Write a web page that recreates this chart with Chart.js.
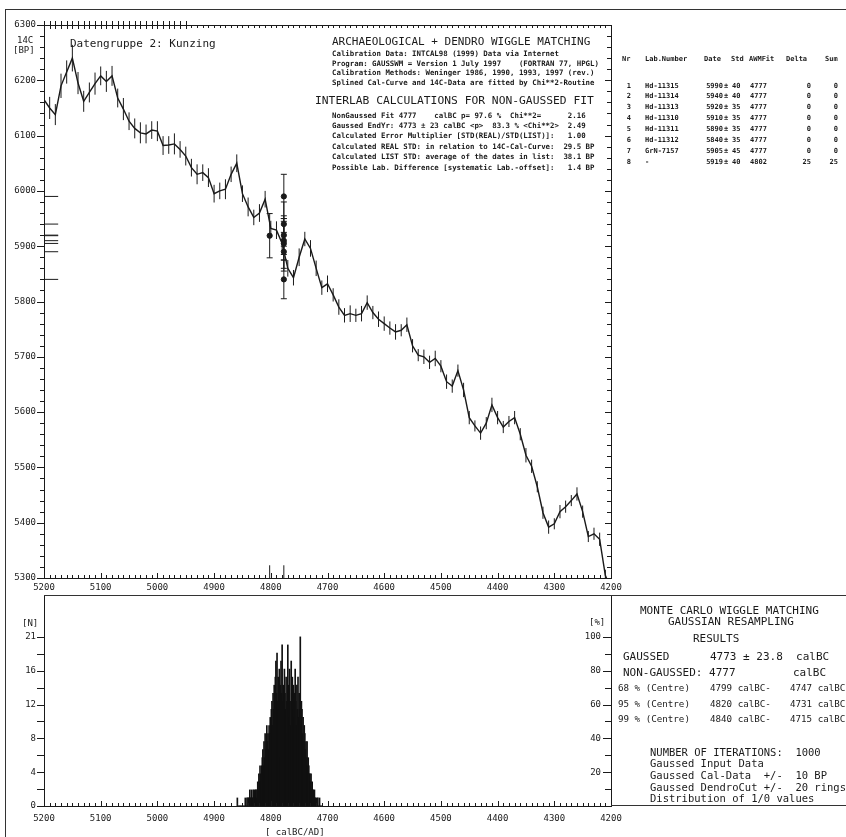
<!DOCTYPE html>
<html>
<head>
<meta charset="utf-8">
<script src="https://cdn.jsdelivr.net/npm/chart.js@4"></script>
<style>
  html, body { margin: 0; padding: 0; background: #fff; }
  body { position: relative; width: 846px; height: 837px; overflow: hidden; }
  canvas { position: absolute; left: 0; }
  #calChart { top: 0; }
  #histChart { top: 585px; }
  .t { position: absolute; white-space: pre; line-height: 1; color: #1a1a1a; font-family: 'DejaVu Sans Mono', monospace; }
  .small { font-size: 7.4px; font-weight: bold; }
  .tab { font-size: 7px; font-weight: bold; }
  .hl { position: absolute; border-top: 1px solid #333; height: 0; }
  .vl { position: absolute; border-left: 1px solid #333; width: 0; }
</style>
</head>
<body>
<canvas id="calChart" width="846" height="600"></canvas>
<canvas id="histChart" width="846" height="252"></canvas>

<!-- frame lines -->
<div class="hl" style="left:5px; top:9px; width:841px;"></div>
<div class="vl" style="left:5px; top:9px; height:828px;"></div>
<div class="hl" style="left:44px; top:595px; width:802px;"></div>
<div class="hl" style="left:611px; top:805px; width:235px;"></div>

<!-- top left -->
<div class="t" style="left:17px; top:36px; font-size:9px;">14C</div>
<div class="t" style="left:13px; top:46px; font-size:9px;">[BP]</div>
<div class="t" style="left:70px; top:38px; font-size:11px;">Datengruppe 2: Kunzing</div>

<!-- top middle -->
<div class="t" style="left:332px; top:36px; font-size:11px;">ARCHAEOLOGICAL + DENDRO WIGGLE MATCHING</div>
<div class="t small" style="left:332px; top:49.5px;">Calibration Data: INTCAL98 (1999) Data via Internet</div>
<div class="t small" style="left:332px; top:59.5px;">Program: GAUSSWM = Version 1 July 1997    (FORTRAN 77, HPGL)</div>
<div class="t small" style="left:332px; top:68.5px;">Calibration Methods: Weninger 1986, 1990, 1993, 1997 (rev.)</div>
<div class="t small" style="left:332px; top:78.5px;">Splined Cal-Curve and 14C-Data are fitted by Chi**2-Routine</div>
<div class="t" style="left:315px; top:94.6px; font-size:11.3px;">INTERLAB CALCULATIONS FOR NON-GAUSSED FIT</div>
<div class="t small" style="left:332px; top:111.5px;">NonGaussed Fit 4777    calBC p= 97.6 %  Chi**2=      2.16</div>
<div class="t small" style="left:332px; top:121.5px;">Gaussed EndYr: 4773 ± 23 calBC &lt;p&gt;  83.3 % &lt;Chi**2&gt;  2.49</div>
<div class="t small" style="left:332px; top:131.5px;">Calculated Error Multiplier [STD(REAL)/STD(LIST)]:   1.00</div>
<div class="t small" style="left:332px; top:142.5px;">Calculated REAL STD: in relation to 14C-Cal-Curve:  29.5 BP</div>
<div class="t small" style="left:332px; top:152.5px;">Calculated LIST STD: average of the dates in list:  38.1 BP</div>
<div class="t small" style="left:332px; top:163.5px;">Possible Lab. Difference [systematic Lab.-offset]:   1.4 BP</div>

<!-- table header -->
<div class="t tab" style="left:622px; top:56px;">Nr</div>
<div class="t tab" style="left:645px; top:56px;">Lab.Number</div>
<div class="t tab" style="left:704px; top:56px;">Date</div>
<div class="t tab" style="left:731px; top:56px;">Std</div>
<div class="t tab" style="left:749px; top:56px;">AWMFit</div>
<div class="t tab" style="left:786px; top:56px;">Delta</div>
<div class="t tab" style="left:825px; top:56px;">Sum</div>
<div id="tableRows"></div>

<!-- bottom labels -->
<div class="t" style="left:22px; top:618.5px; font-size:9px;">[N]</div>
<div class="t" style="left:589px; top:617.5px; font-size:9px;">[%]</div>
<div class="t" style="left:265px; top:827.5px; font-size:9px;">[ calBC/AD]</div>

<!-- bottom right panel -->
<div class="t" style="left:640px; top:604.7px; font-size:11px;">MONTE CARLO WIGGLE MATCHING</div>
<div class="t" style="left:668px; top:615.7px; font-size:11px;">GAUSSIAN RESAMPLING</div>
<div class="t" style="left:693px; top:632.7px; font-size:11px;">RESULTS</div>
<div class="t" style="left:623px; top:650.7px; font-size:11px;">GAUSSED</div>
<div class="t" style="left:710px; top:650.7px; font-size:11px;">4773 ± 23.8  calBC</div>
<div class="t" style="left:623px; top:666.7px; font-size:11px;">NON-GAUSSED: 4777</div>
<div class="t" style="left:793px; top:666.7px; font-size:11px;">calBC</div>
<div class="t" style="left:618px; top:682.6px; font-size:9.2px;">68 % (Centre)</div>
<div class="t" style="left:710px; top:682.6px; font-size:9.2px;">4799 calBC-</div>
<div class="t" style="left:790px; top:682.6px; font-size:9.2px;">4747 calBC</div>
<div class="t" style="left:618px; top:698.6px; font-size:9.2px;">95 % (Centre)</div>
<div class="t" style="left:710px; top:698.6px; font-size:9.2px;">4820 calBC-</div>
<div class="t" style="left:790px; top:698.6px; font-size:9.2px;">4731 calBC</div>
<div class="t" style="left:618px; top:713.6px; font-size:9.2px;">99 % (Centre)</div>
<div class="t" style="left:710px; top:713.6px; font-size:9.2px;">4840 calBC-</div>
<div class="t" style="left:790px; top:713.6px; font-size:9.2px;">4715 calBC</div>
<div class="t" style="left:650px; top:747px; font-size:10.5px;">NUMBER OF ITERATIONS:  1000</div>
<div class="t" style="left:650px; top:758px; font-size:10.5px;">Gaussed Input Data</div>
<div class="t" style="left:650px; top:770px; font-size:10.5px;">Gaussed Cal-Data  +/-  10 BP</div>
<div class="t" style="left:650px; top:782px; font-size:10.5px;">Gaussed DendroCut +/-  20 rings</div>
<div class="t" style="left:650px; top:793px; font-size:10.5px;">Distribution of 1/0 values</div>

<script>
// --- calibration curve (INTCAL98, 10 yr steps) ---
const calYears = [
    5200, 5190, 5180, 5170, 5160, 5150, 5140, 5130, 5120, 5110,
    5100, 5090, 5080, 5070, 5060, 5050, 5040, 5030, 5020, 5010,
    5000, 4990, 4980, 4970, 4960, 4950, 4940, 4930, 4920, 4910,
    4900, 4890, 4880, 4870, 4860, 4850, 4840, 4830, 4820, 4810,
    4800, 4790, 4780, 4770, 4760, 4750, 4740, 4730, 4720, 4710,
    4700, 4690, 4680, 4670, 4660, 4650, 4640, 4630, 4620, 4610,
    4600, 4590, 4580, 4570, 4560, 4550, 4540, 4530, 4520, 4510,
    4500, 4490, 4480, 4470, 4460, 4450, 4440, 4430, 4420, 4410,
    4400, 4390, 4380, 4370, 4360, 4350, 4340, 4330, 4320, 4310,
    4300, 4290, 4280, 4270, 4260, 4250, 4240, 4230, 4220, 4210,
    4200
];
const calBP = [
    6165, 6150, 6138, 6190, 6215, 6240, 6195, 6162, 6178, 6194,
    6208, 6198, 6208, 6168, 6148, 6126, 6113, 6105, 6103, 6110,
    6108, 6082, 6083, 6085, 6075, 6063, 6042, 6030, 6033, 6024,
    5995, 6000, 6003, 6030, 6050, 5995, 5971, 5952, 5960, 5985,
    5932, 5929, 5905, 5860, 5843, 5880, 5913, 5896, 5860, 5825,
    5832, 5812, 5790, 5775, 5778, 5775, 5778, 5798, 5780, 5768,
    5760, 5752, 5745, 5748, 5758, 5720, 5703, 5700, 5690, 5697,
    5683, 5655, 5647, 5675, 5640, 5590, 5575, 5562, 5580, 5613,
    5590, 5573, 5583, 5590, 5560, 5522, 5502, 5465, 5418, 5392,
    5398, 5420, 5429, 5440, 5452, 5420, 5375, 5380, 5370, 5305,
    5280
];
const calErr = [
    18, 20, 19, 22, 21, 24, 20, 19, 18, 20,
    17, 19, 18, 17, 20, 16, 18, 19, 17, 16,
    18, 17, 16, 19, 15, 17, 16, 18, 15, 17,
    16, 15, 18, 14, 16, 15, 17, 14, 16, 15,
    14, 16, 13, 15, 14, 16, 13, 15, 14, 13,
    15, 12, 14, 13, 15, 12, 14, 13, 12, 14,
    13, 12, 14, 11, 13, 12, 11, 13, 12, 14,
    11, 13, 12, 11, 13, 12, 10, 12, 11, 13,
    12, 11, 10, 12, 11, 13, 12, 10, 11, 12,
    10, 12, 11, 10, 12, 11, 10, 11, 12, 10,
    11
];

// --- 14C dates of the group ---
const labNumbers = ['Hd-11315', 'Hd-11314', 'Hd-11313', 'Hd-11310', 'Hd-11311', 'Hd-11312', 'GrN-7157', '-'];
const dateBP = [5990, 5940, 5920, 5910, 5890, 5840, 5905, 5919];
const dateStd = [40, 40, 35, 35, 35, 35, 45, 40];
const fitYears = [4777, 4777, 4777, 4777, 4777, 4777, 4777, 4802];
const deltas = [0, 0, 0, 0, 0, 0, 0, 25];
const sums = [0, 0, 0, 0, 0, 0, 0, 25];

// --- Monte Carlo distribution (counts per calendar year) ---
const histYears = [
    4859, 4858, 4857, 4856, 4855, 4854, 4853, 4852, 4851, 4850,
    4849, 4848, 4847, 4846, 4845, 4844, 4843, 4842, 4841, 4840,
    4839, 4838, 4837, 4836, 4835, 4834, 4833, 4832, 4831, 4830,
    4829, 4828, 4827, 4826, 4825, 4824, 4823, 4822, 4821, 4820,
    4819, 4818, 4817, 4816, 4815, 4814, 4813, 4812, 4811, 4810,
    4809, 4808, 4807, 4806, 4805, 4804, 4803, 4802, 4801, 4800,
    4799, 4798, 4797, 4796, 4795, 4794, 4793, 4792, 4791, 4790,
    4789, 4788, 4787, 4786, 4785, 4784, 4783, 4782, 4781, 4780,
    4779, 4778, 4777, 4776, 4775, 4774, 4773, 4772, 4771, 4770,
    4769, 4768, 4767, 4766, 4765, 4764, 4763, 4762, 4761, 4760,
    4759, 4758, 4757, 4756, 4755, 4754, 4753, 4752, 4751, 4750,
    4749, 4748, 4747, 4746, 4745, 4744, 4743, 4742, 4741, 4740,
    4739, 4738, 4737, 4736, 4735, 4734, 4733, 4732, 4731, 4730,
    4729, 4728, 4727, 4726, 4725, 4724, 4723, 4722, 4721, 4720,
    4719, 4718, 4717, 4716, 4715, 4714, 4713, 4712, 4711, 4710
];
const histCounts = [
    1, 0, 0, 0, 0, 0, 0, 0, 0, 0,
    0, 0, 0, 0, 1, 0, 0, 1, 0, 1,
    1, 0, 2, 1, 1, 2, 1, 1, 2, 1,
    2, 1, 2, 2, 1, 2, 3, 2, 4, 3,
    5, 4, 3, 5, 6, 7, 5, 8, 6, 9,
    7, 8, 10, 8, 9, 7, 10, 9, 11, 9,
    12, 13, 10, 14, 12, 15, 11, 16, 18, 14,
    19, 13, 16, 12, 17, 6, 15, 18, 14, 20,
    13, 15, 11, 17, 14, 12, 16, 13, 9, 20,
    15, 11, 17, 13, 10, 18, 14, 16, 12, 15,
    11, 14, 17, 13, 10, 15, 12, 16, 11, 14,
    12, 21, 10, 13, 12, 9, 11, 8, 10, 9,
    7, 8, 6, 8, 5, 6, 5, 4, 4, 3,
    4, 2, 3, 2, 2, 1, 2, 1, 1, 0,
    1, 0, 1, 0, 0, 1, 0, 0, 0, 0
];
const histMaxCount = 21;   // top label of the [N] axis == 100 %

const INK = '#1a1a1a';
const tickFont = { family: 'DejaVu Sans Mono', size: 9 };

function tickValues(min, max, step) {
    const out = [];
    for (let v = min; v <= max + 1e-9; v += step) out.push({ value: Math.round(v * 1000) / 1000 });
    return out;
}

// draws tick marks of different length (major/minor, in/out) from the scales' own ticks
function tickPlugin(specs) {
    return {
        id: 'tickMarks',
        afterDraw(chart) {
            const ctx = chart.ctx;
            ctx.save();
            ctx.strokeStyle = INK;
            ctx.lineWidth = 1;
            specs.forEach(spec => {
                const s = chart.scales[spec.id];
                s.ticks.forEach(t => {
                    const [inner, outer] = spec.len(t.value);
                    const p = Math.round(s.getPixelForValue(t.value)) + 0.5;
                    ctx.beginPath();
                    if (spec.side === 'bottom') {
                        ctx.moveTo(p, s.top - inner); ctx.lineTo(p, s.top + outer);
                    } else if (spec.side === 'top') {
                        ctx.moveTo(p, s.bottom + inner); ctx.lineTo(p, s.bottom - outer);
                    } else if (spec.side === 'left') {
                        ctx.moveTo(s.right + inner, p); ctx.lineTo(s.right - outer, p);
                    } else {
                        ctx.moveTo(s.left - inner, p); ctx.lineTo(s.left + outer, p);
                    }
                    ctx.stroke();
                });
            });
            ctx.restore();
        }
    };
}

// --- Build datasets for the calibration plot ---
const curvePoints = calYears.map((x, i) => ({ x, y: calBP[i] }));
const curveBars = [];
calYears.forEach((x, i) => {
    curveBars.push({ x, y: calBP[i] - calErr[i] }, { x, y: calBP[i] + calErr[i] }, { x, y: null });
});
const dateBars = [];
const dateCaps = [];
const datePoints = [];
const axisMarks = [];
dateBP.forEach((bp, i) => {
    const x = fitYears[i];
    dateBars.push({ x, y: bp - dateStd[i] }, { x, y: bp + dateStd[i] }, { x, y: null });
    dateCaps.push({ x, y: bp - dateStd[i] }, { x, y: bp + dateStd[i] });
    datePoints.push({ x, y: bp });
    axisMarks.push({ x: 5200, y: bp }, { x: 5175, y: bp }, { x: 5200, y: null });
});
const fitMarks = [];
[...new Set(fitYears)].forEach(x => {
    fitMarks.push({ x, y: 5300 }, { x, y: 5323 }, { x, y: null });
});

const segStyle = { borderColor: INK, borderWidth: 1, pointRadius: 0, spanGaps: false, tension: 0 };

new Chart(document.getElementById('calChart'), {
    type: 'line',
    data: {
        datasets: [
            { ...segStyle, data: curveBars },
            { ...segStyle, data: curvePoints, borderWidth: 1.4 },
            { ...segStyle, data: axisMarks },
            { ...segStyle, data: fitMarks },
            { ...segStyle, data: dateBars },
            { data: dateCaps, showLine: false, pointStyle: 'line', pointRadius: 3, pointBorderWidth: 1, pointBorderColor: INK },
            { data: datePoints, showLine: false, pointStyle: 'circle', pointRadius: 2.6, pointBackgroundColor: INK, pointBorderColor: INK }
        ]
    },
    options: {
        responsive: false,
        animation: false,
        devicePixelRatio: 1,
        layout: { padding: { top: 25, right: 235, left: 0, bottom: 0 } },
        plugins: { legend: { display: false }, tooltip: { enabled: false } },
        scales: {
            x: {
                type: 'linear', position: 'bottom', reverse: true, min: 4200, max: 5200, offset: false,
                grid: { display: false, tickLength: 2 },
                border: { display: true, color: INK, width: 1 },
                ticks: { autoSkip: false, maxRotation: 0, padding: 2.5, color: INK, font: tickFont,
                         callback: v => (v % 100 === 0 ? String(v) : '') },
                afterBuildTicks: s => { s.ticks = tickValues(4200, 5200, 10); },
                afterFit: s => { s.height = 22; }
            },
            xTop: {
                type: 'linear', position: 'top', reverse: true, min: 4200, max: 5200, offset: false,
                grid: { display: false, tickLength: 0 },
                border: { display: true, color: INK, width: 1 },
                ticks: { display: false, autoSkip: false },
                afterBuildTicks: s => { s.ticks = tickValues(4200, 5200, 10); },
                afterFit: s => { s.height = 0; }
            },
            y: {
                type: 'linear', position: 'left', min: 5300, max: 6300,
                grid: { display: false, tickLength: 7 },
                border: { display: true, color: INK, width: 1 },
                ticks: { autoSkip: false, padding: 1, color: INK, font: tickFont,
                         callback: v => (v % 100 === 0 ? String(v) : '') },
                afterBuildTicks: s => { s.ticks = tickValues(5300, 6300, 20); },
                afterFit: s => { s.width = 44; }
            },
            yR: {
                type: 'linear', position: 'right', min: 5300, max: 6300,
                grid: { display: false, tickLength: 0 },
                border: { display: true, color: INK, width: 1 },
                ticks: { display: false, autoSkip: false },
                afterBuildTicks: s => { s.ticks = tickValues(5300, 6300, 20); },
                afterFit: s => { s.width = 0; }
            }
        }
    },
    plugins: [tickPlugin([
        { id: 'x', side: 'bottom', len: v => (v % 100 === 0 ? [5, 0] : [3, 0]) },
        { id: 'xTop', side: 'top', len: v => (v >= 4950 ? [4, 4] : [3, 0]) },
        { id: 'y', side: 'left', len: v => (v % 100 === 0 ? [0, 7] : [0, 4]) },
        { id: 'yR', side: 'right', len: v => (v % 100 === 0 ? [6, 0] : [4, 0]) }
    ])]
});

// --- Monte Carlo histogram ---
const nAxisMax = 26.2;
new Chart(document.getElementById('histChart'), {
    type: 'bar',
    data: {
        datasets: [{
            data: histYears.map((x, i) => ({ x, y: histCounts[i] })),
            backgroundColor: '#111',
            borderWidth: 0,
            barThickness: 1,
            grouped: false
        }]
    },
    options: {
        responsive: false,
        animation: false,
        devicePixelRatio: 1,
        layout: { padding: { top: 10, right: 235, left: 0, bottom: 0 } },
        plugins: { legend: { display: false }, tooltip: { enabled: false } },
        scales: {
            x: {
                type: 'linear', position: 'bottom', reverse: true, min: 4200, max: 5200, offset: false,
                grid: { display: false, tickLength: 4 },
                border: { display: true, color: INK, width: 1 },
                ticks: { autoSkip: false, maxRotation: 0, padding: 3.5, color: INK, font: tickFont,
                         callback: v => (v % 100 === 0 ? String(v) : '') },
                afterBuildTicks: s => { s.ticks = tickValues(4200, 5200, 10); },
                afterFit: s => { s.height = 31; }
            },
            y: {
                type: 'linear', position: 'left', min: 0, max: nAxisMax,
                grid: { display: false, tickLength: 7 },
                border: { display: true, color: INK, width: 1 },
                ticks: { autoSkip: false, padding: 1, color: INK, font: tickFont,
                         callback: (v, i) => (i % 2 === 0 ? String(Math.floor(v + 1e-6)) : '') },
                afterBuildTicks: s => { s.ticks = tickValues(0, histMaxCount, histMaxCount / 10); },
                afterFit: s => { s.width = 44; }
            },
            yPct: {
                type: 'linear', position: 'right', min: 0, max: nAxisMax / histMaxCount * 100,
                grid: { display: false, tickLength: 0 },
                border: { display: true, color: INK, width: 1 },
                ticks: { autoSkip: false, mirror: true, padding: -10, color: INK, font: tickFont,
                         callback: v => (v > 0 && v % 20 === 0 ? String(v) : '') },
                afterBuildTicks: s => { s.ticks = tickValues(0, 100, 10); },
                afterFit: s => { s.width = 0; }
            }
        }
    },
    plugins: [tickPlugin([
        { id: 'x', side: 'bottom', len: v => (v % 100 === 0 ? [5, 0] : [3, 0]) },
        { id: 'y', side: 'left', len: () => [0, 7] },
        { id: 'yPct', side: 'right', len: v => (v % 20 === 0 ? [8, 0] : [6, 0]) }
    ])]
});

// --- Table of dates ---
const rowsEl = document.getElementById('tableRows');
function cell(text, x, y, align) {
    const d = document.createElement('div');
    d.className = 't tab';
    d.textContent = text;
    d.style.top = y + 'px';
    if (align === 'right') { d.style.right = (846 - x) + 'px'; } else { d.style.left = x + 'px'; }
    rowsEl.appendChild(d);
}
labNumbers.forEach((lab, i) => {
    const y = 82.5 + i * 10.9;
    cell(String(i + 1), 631, y, 'right');
    cell(lab, 645, y);
    cell(String(dateBP[i]), 723, y, 'right');
    cell('±', 724, y);
    cell(String(dateStd[i]), 732, y);
    cell(String(fitYears[i]), 750, y);
    cell(String(deltas[i]), 811, y, 'right');
    cell(String(sums[i]), 838, y, 'right');
});
</script>
</body>
</html>
